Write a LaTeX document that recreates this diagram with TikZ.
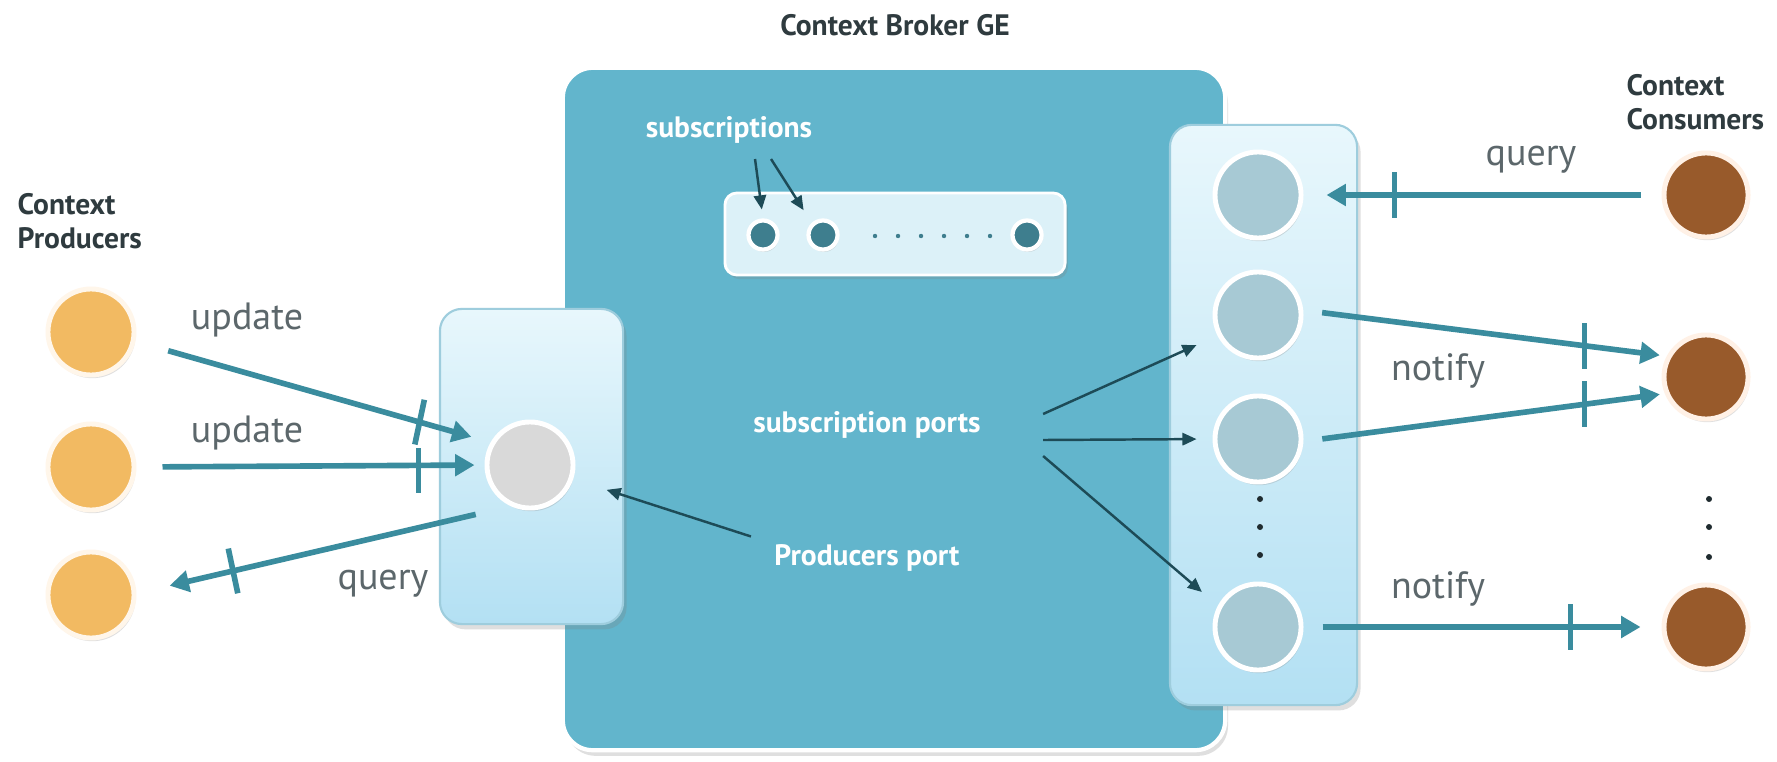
\documentclass[tikz,border=0pt]{standalone}
\usepackage{fontspec}
\setmainfont{PT Sans}
\usetikzlibrary{arrows.meta,shadows}
\definecolor{arrowc}{HTML}{3A8C9E}
\definecolor{brokerc}{HTML}{62B5CC}
\definecolor{paneltop}{HTML}{E8F7FC}
\definecolor{panelbot}{HTML}{B3E0F3}
\definecolor{panelline}{HTML}{9ECDDD}
\definecolor{subsboxc}{HTML}{DCF1F8}
\definecolor{subdot}{HTML}{3E7E8E}
\definecolor{thinc}{HTML}{1D4B57}
\definecolor{prodc}{HTML}{F2BA62}
\definecolor{prodring}{HTML}{FFF6EA}
\definecolor{consc}{HTML}{985A2B}
\definecolor{consring}{HTML}{FFF1E6}
\definecolor{portc}{HTML}{A7C9D4}
\definecolor{greyc}{HTML}{D9D9D9}
\definecolor{headc}{HTML}{2F3B3F}
\definecolor{labc}{HTML}{5C676B}
\definecolor{dotc}{HTML}{1F2B2F}
\tikzset{
  header/.style={font=\fontsize{8.4}{9.7}\selectfont\bfseries, text=headc, inner sep=0, align=left},
  whitelab/.style={font=\fontsize{8.4}{10}\selectfont\bfseries, text=white, inner sep=0},
  arrowlab/.style={font=\fontsize{10.8}{13}\selectfont, text=labc, inner sep=0},
  flow/.style={draw=arrowc, line width=1.6pt, -{Triangle[length=5.5pt,width=6pt]}},
  tickmark/.style={fill=arrowc, draw=none, inner sep=0, outer sep=0, minimum width=1.6pt, minimum height=13pt},
  thinarrow/.style={draw=thinc, line width=0.7pt, -{Triangle[length=4pt,width=3.5pt]}},
  ball/.style={circle, line width=1.4pt, minimum size=0.86cm, inner sep=0,
    drop shadow={shadow xshift=0.4pt, shadow yshift=-0.9pt, opacity=0.25}},
  portball/.style={ball, fill=portc, draw=white},
  prodball/.style={ball, fill=prodc, draw=prodring},
  consball/.style={ball, fill=consc, draw=consring, minimum size=0.84cm},
  subball/.style={circle, fill=subdot, draw=white, line width=1.2pt, minimum size=0.29cm, inner sep=0,
    drop shadow={shadow xshift=0.3pt, shadow yshift=-0.7pt, opacity=0.25}},
  panel/.style={rectangle, rounded corners=0.22cm, top color=paneltop, bottom color=panelbot,
    draw=panelline, line width=0.6pt,
    drop shadow={shadow xshift=1pt, shadow yshift=-1.5pt, opacity=0.25}},
}
\begin{document}
\begin{tikzpicture}[x=0.01cm, y=-0.01cm]
\fill[white] (0,0) rectangle (1777,761);
\useasboundingbox (0,0) rectangle (1777,761);

% main broker box
\node[rectangle, rounded corners=0.3cm, fill=brokerc, draw=white, line width=1.2pt,
  minimum width=6.62cm, minimum height=6.82cm,
  drop shadow={shadow xshift=0.8pt, shadow yshift=-1.6pt, opacity=0.25}] (broker) at (894,409) {};
\node[header] (title) at (895,25) {Context Broker GE};

% subscriptions
\node[whitelab] (subslab) at (729,130) {subscriptions};
\node[rectangle, rounded corners=0.12cm, fill=subsboxc, draw=white, line width=0.8pt,
  minimum width=3.40cm, minimum height=0.82cm,
  drop shadow={shadow xshift=0.8pt, shadow yshift=-1.2pt, opacity=0.25}] (subsbox) at (895,234) {};
\node[subball] (sub1) at (763,235) {};
\node[subball] (sub2) at (823,235) {};
\node[subball] (sub3) at (1027,235) {};
\foreach \x in {875,898,921,944,967,990} \fill[subdot] (\x,236) circle (0.022cm);
\draw[thinarrow, shorten >=0.09cm] ([shift={(0.26cm,-0.29cm)}]subslab.center) -- (sub1.north);
\draw[thinarrow, shorten >=0.15cm] ([shift={(0.42cm,-0.29cm)}]subslab.center) -- (sub2.133);

% inner labels
\node[whitelab] (sports) at (867,425) {subscription ports};
\node[whitelab] (pport) at (867,558) {Producers port};

% left panel
\node[panel, minimum width=1.83cm, minimum height=3.15cm] (lpanel) at (531.5,466.5) {};
\node[ball, fill=greyc, draw=white] (g) at (530,465) {};

% right panel
\node[panel, minimum width=1.87cm, minimum height=5.80cm] (rpanel) at (1263.5,415) {};
\node[portball] (s1) at (1258,195) {};
\node[portball] (s2) at (1258,315) {};
\node[portball] (s3) at (1258,439) {};
\node[portball] (s4) at (1258,627) {};
\foreach \y in {499,527,555} \fill[dotc] (1260,\y) circle (0.03cm);

% producers
\node[header, anchor=north west] (prodlab) at (17,193) {Context\\Producers};
\node[prodball] (p1) at (91,332) {};
\node[prodball] (p2) at (91,467) {};
\node[prodball] (p3) at (91,595) {};

% consumers
\node[header, anchor=north west] (conslab) at (1626,74) {Context\\Consumers};
\node[consball] (c1) at (1706,195) {};
\node[consball] (c2) at (1706,377) {};
\node[consball] (c3) at (1706,627) {};
\foreach \y in {499,527,557} \fill[dotc] (1709,\y) circle (0.03cm);

% producer flows
\draw[flow, shorten <=0.34cm, shorten >=0.20cm] (p1.348) -- node[tickmark, rotate=-12, pos=0.80]{} (g.150);
\draw[flow, shorten <=0.26cm, shorten >=0.10cm] (p2.east) -- node[tickmark, pos=0.81, yshift=-0.05cm]{} (g.west);
\draw[flow, shorten <=0.36cm, shorten >=0.34cm] (g.245) -- node[tickmark, rotate=12, pos=0.742]{} (p3.2);
\node[arrowlab] (lupd1) at (247,320) {update};
\node[arrowlab] (lupd2) at (247,433) {update};
\node[arrowlab] (lqry) at (383,584) {query};

% consumer flows
\draw[flow, shorten <=0.21cm, shorten >=0.23cm] (c1.west) -- node[tickmark, pos=0.746]{} (s1.east);
\draw[flow, shorten <=0.19cm, shorten >=0.07cm] (s2.6) -- node[tickmark, pos=0.774]{} (c2.152);
\draw[flow, shorten <=0.19cm, shorten >=0.05cm] (s3.357) -- node[tickmark, pos=0.778]{} (c2.202);
\draw[flow, shorten <=0.19cm, shorten >=0.21cm] (s4.east) -- node[tickmark, pos=0.746]{} (c3.west);
\node[arrowlab] (rqry) at (1531,160) {query};
\node[arrowlab] (rnot1) at (1438,371) {notify};
\node[arrowlab] (rnot2) at (1438,589) {notify};

% internal thin arrows
\draw[thinarrow, shorten <=0.24cm, shorten >=0.35cm] (pport.north west) -- (g.-18);
\draw[thinarrow, shorten >=0.23cm] ([shift={(1.76cm,0.11cm)}]sports.center) -- (s2.207);
\draw[thinarrow, shorten >=0.16cm] ([shift={(1.76cm,-0.15cm)}]sports.center) -- (s3.west);
\draw[thinarrow, shorten >=0.21cm] ([shift={(1.76cm,-0.31cm)}]sports.center) -- (s4.152);
\end{tikzpicture}
\end{document}
